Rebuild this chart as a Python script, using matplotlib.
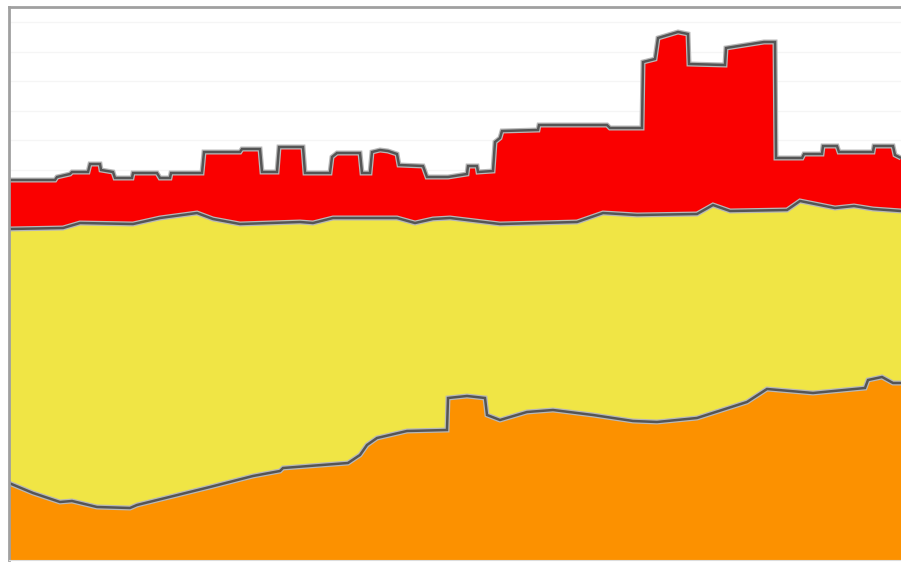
##stacked area chart, three layers (orange / yellow / red)
import numpy as np
import matplotlib.pyplot as plt

##boundary points, x along the axis, y = cumulative height
##orange layer (bottom)
orange_x = [0, 24, 51, 63, 88, 121, 128, 201, 244, 271, 274, 339, 351, 358, 368, 398, 438,
            439, 458, 476, 478, 491, 518, 544, 584, 624, 648, 688, 738, 758, 804, 856, 859,
            873, 884, 892]
orange_top = [77, 67, 58, 59, 53, 52, 55, 73, 84, 89, 92, 97, 105, 115, 122, 129, 130,
              162, 164, 162, 145, 140, 148, 150, 145, 139, 138, 142, 158, 171, 167, 172, 180,
              183, 177, 177]

##yellow layer (middle), top edge = orange + yellow
yellow_x = [0, 54, 71, 124, 151, 188, 204, 231, 291, 304, 324, 388, 406, 424, 441, 491, 568,
            594, 628, 688, 704, 721, 778, 791, 826, 845, 864, 892]
yellow_top = [331, 332, 337, 336, 342, 347, 341, 336, 338, 337, 342, 342, 337, 341, 342, 336, 338,
              347, 345, 346, 355, 349, 350, 359, 352, 354, 351, 349]

##red layer (top), top edge = total
red_x = [0, 46, 48, 61, 63, 79, 81, 91, 92, 104, 106, 123, 124, 148, 151, 161, 162, 193,
         195, 231, 233, 251, 253, 268, 270, 294, 296, 321, 323, 328, 351, 353, 361, 363,
         371, 379, 388, 390, 414, 418, 439, 458, 459, 468, 469, 484, 486, 491, 493, 529,
         530, 598, 601, 633, 634, 646, 649, 669, 679, 680, 716, 717, 755, 766, 767, 793,
         795, 813, 814, 828, 830, 864, 865, 884, 886, 892]
red_top = [380, 380, 383, 386, 388, 388, 396, 396, 390, 388, 382, 382, 387, 387, 382, 382, 387, 387,
           408, 408, 411, 411, 388, 388, 413, 413, 387, 387, 403, 407, 407, 387, 387, 408,
           410, 409, 406, 395, 394, 383, 383, 386, 394, 394, 388, 389, 418, 422, 429, 430,
           435, 435, 432, 432, 498, 501, 522, 528, 526, 496, 495, 512, 518, 518, 402, 402,
           406, 406, 414, 414, 408, 408, 414, 414, 405, 402]

##colours
red_c = '#fa0000'
yellow_c = '#f0e545'
orange_c = '#fc9100'
line_c = '#555555'

fig = plt.figure(figsize=(9.01, 5.63), dpi=100)
ax = fig.add_axes([9/901, 3/563, 892/901, 553/563])

##faint grid behind everything
ax.set_axisbelow(True)
ax.set_yticks(np.arange(538, 0, -29.5))
ax.grid(axis='y', color='#f5f5f5', lw=1)
ax.tick_params(left=False, bottom=False, labelleft=False, labelbottom=False)

##painter's order: tallest first
ax.fill_between(red_x, 0, red_top, color=red_c, lw=0)
ax.fill_between(yellow_x, 0, yellow_top, color=yellow_c, lw=0)
ax.fill_between(orange_x, 0, orange_top, color=orange_c, lw=0)

##outlines: soft halo + dark core
for xs, ys in [(orange_x, orange_top), (yellow_x, yellow_top), (red_x, red_top)]:
    ax.plot(xs, ys, color='#b8b8b8', lw=3.6, solid_joinstyle='miter', solid_capstyle='butt')
    ax.plot(xs, ys, color=line_c, lw=1.8, solid_joinstyle='miter', solid_capstyle='butt')

ax.set_xlim(0, 892)
ax.set_ylim(0, 553)

ax.spines['right'].set_visible(False)
ax.spines['top'].set_color('#a0a0a0')
ax.spines['left'].set_color('#a0a0a0')
ax.spines['top'].set_linewidth(2)
ax.spines['left'].set_linewidth(2)
ax.spines['bottom'].set_color('#dddddd')

fig.savefig('out.png', dpi=100)
